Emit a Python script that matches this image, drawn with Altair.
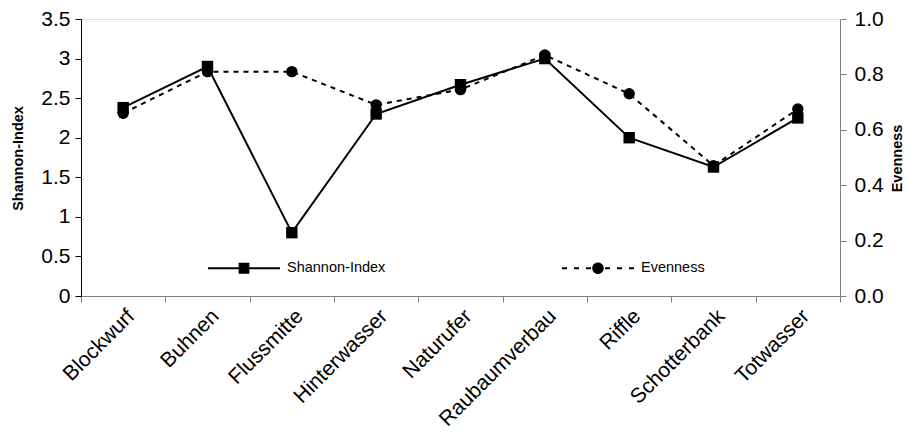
import altair as alt
import pandas as pd

habitats = ["Blockwurf", "Buhnen", "Flussmitte", "Hinterwasser", "Naturufer",
            "Raubaumverbau", "Riffle", "Schotterbank", "Totwasser"]
shannon = [2.38, 2.90, 0.80, 2.30, 2.67, 3.00, 2.00, 1.63, 2.25]
evenness = [0.66, 0.81, 0.81, 0.69, 0.745, 0.87, 0.73, 0.47, 0.675]
series_names = ["Shannon-Index", "Evenness"]

df = pd.DataFrame({"Habitat": habitats, "Shannon": shannon, "Evenness": evenness})
legend_df = pd.DataFrame({"Reihe": series_names, "Habitat": habitats[:2], "Shannon": [0, 0]})

FONT = "Liberation Sans"

x_enc = alt.X(
    "Habitat:N",
    sort=habitats,
    scale=alt.Scale(type="band", paddingInner=0, paddingOuter=0),
    axis=alt.Axis(
        title=None, labelAngle=-45, labelFontSize=21, labelFont=FONT,
        labelColor="black", tickBand="extent", tickSize=6, tickColor="#7f7f7f",
        domainColor="#7f7f7f", labelPadding=3, grid=False,
    ),
)

y_left = alt.Y(
    "Shannon:Q",
    scale=alt.Scale(domain=[0, 3.5], nice=False, zero=True),
    axis=alt.Axis(
        title="Shannon-Index", values=[0, 0.5, 1, 1.5, 2, 2.5, 3, 3.5], format=".1~f",
        labelFontSize=21, labelFont=FONT, labelColor="black", tickSize=6,
        tickColor="black", domainColor="black", labelPadding=5, grid=False,
        titleFont=FONT, titleFontSize=14.5, titleFontWeight="bold", titleColor="black",
        titleAngle=-90, titleX=-63, titleY=139, titleAlign="center", titleBaseline="middle",
    ),
)

y_right = alt.Y(
    "Evenness:Q",
    scale=alt.Scale(domain=[0, 1.0], nice=False, zero=True),
    axis=alt.Axis(
        orient="right", title="Evenness", values=[0, 0.2, 0.4, 0.6, 0.8, 1.0], format=".1f",
        labelFontSize=21, labelFont=FONT, labelColor="black", tickSize=6,
        tickColor="#7f7f7f", domainColor="#7f7f7f", labelPadding=8, grid=False,
        titleFont=FONT, titleFontSize=14.5, titleFontWeight="bold", titleColor="black",
        titleAngle=-90, titleX=57, titleY=139, titleAlign="center", titleBaseline="middle",
    ),
)

base = alt.Chart(df)

shannon_line = base.mark_line(color="black", strokeWidth=2).encode(x=x_enc, y=y_left)
shannon_pts = base.mark_point(shape="square", filled=True, color="black", size=130,
                              opacity=1).encode(x=x_enc, y=y_left)

even_line = base.mark_line(color="black", strokeWidth=2, strokeDash=[5, 5]).encode(
    x=x_enc, y=y_right)
even_pts = base.mark_point(shape="circle", filled=True, color="black", size=130,
                           opacity=1).encode(x=x_enc, y=y_right)


# Legend symbols are filled paths: a thin bar (solid, or split into dashes)
# with the series marker in the middle. One path unit is 36 px here.
def bar(x0, x1, h=0.028):
    return f"M{x0:.3f},{-h:.3f}H{x1:.3f}V{h:.3f}H{x0:.3f}Z"


square_path = bar(-1, 1) + "M-0.15,-0.15H0.15V0.15H-0.15Z"
dash_px = [(-36, -31), (-24, -19), (-12, -7), (7, 12), (19, 24), (31, 36)]
circle_path = "".join(bar(a / 36, b / 36) for a, b in dash_px) + \
    "M0.16,0A0.16,0.16 0 1,1 -0.16,0A0.16,0.16 0 1,1 0.16,0Z"

legend_layer = alt.Chart(legend_df).transform_filter("false").mark_point(
    filled=True, color="black"
).encode(
    x=x_enc,
    y=y_left,
    shape=alt.Shape(
        "Reihe:N",
        scale=alt.Scale(domain=series_names, range=[square_path, circle_path]),
        legend=alt.Legend(
            title=None, orient="none", direction="horizontal", legendX=127, legendY=213,
            symbolSize=5184, symbolStrokeWidth=0, symbolFillColor="black",
            symbolOpacity=1, labelFont=FONT, labelFontSize=14.5,
            labelColor="black", labelOffset=7, columnPadding=176, padding=0,
        ),
    ),
)

left = alt.layer(shannon_line, shannon_pts, legend_layer)
right = alt.layer(even_line, even_pts)

chart = alt.layer(left, right).resolve_scale(y="independent").properties(
    width=759, height=277,
    padding={"left": 81, "top": 19, "right": 67, "bottom": 139},
    autosize=alt.AutoSizeParams(type="none"),
).configure_view(stroke=None).configure(background="white")

chart.save("out.html", embed_options={"renderer": "svg", "actions": False})
